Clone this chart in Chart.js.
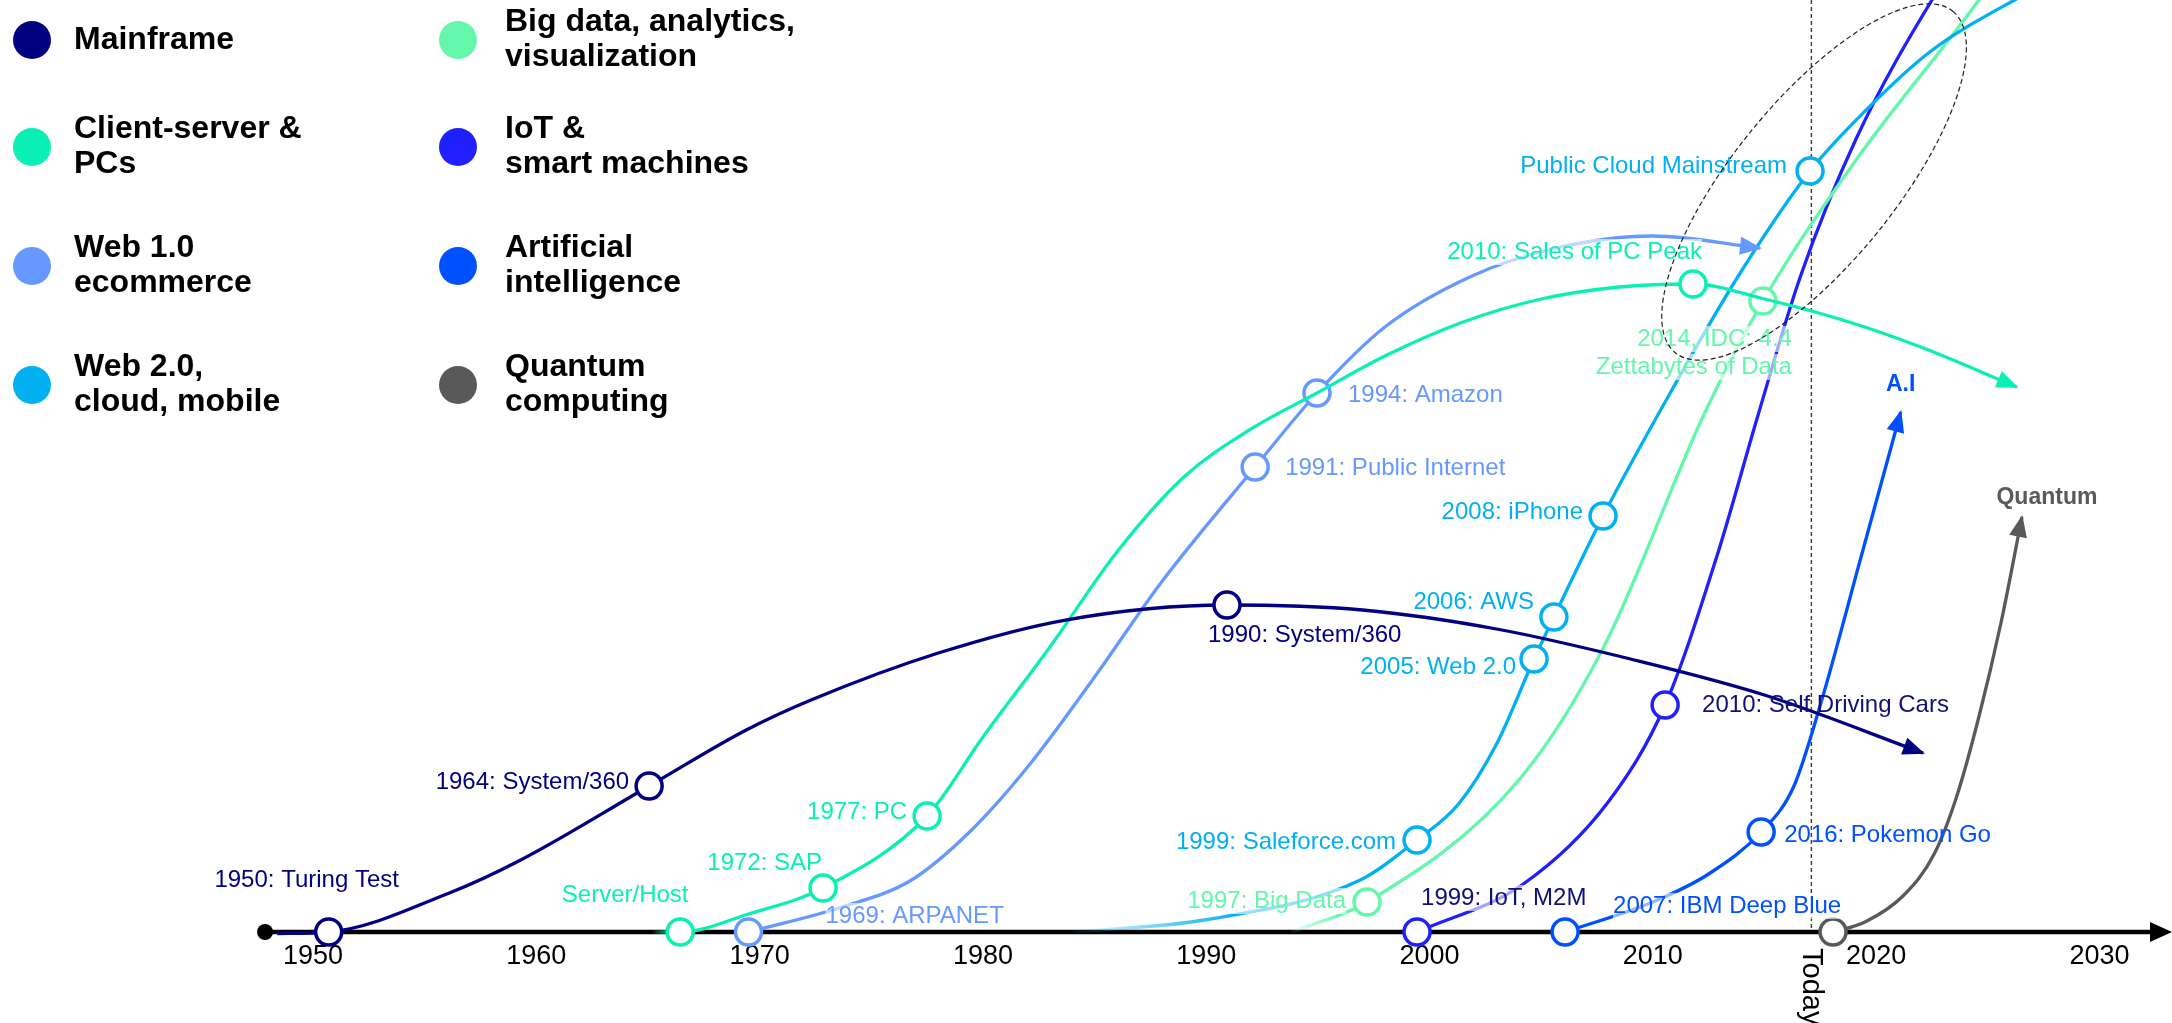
<!DOCTYPE html>
<html>
<head>
<meta charset="utf-8">
<script src="https://cdn.jsdelivr.net/npm/chart.js@4.4.1/dist/chart.umd.min.js"></script>
<style>
  html, body { margin: 0; padding: 0; background: #fff; overflow: hidden; }
  canvas { display: block; }
</style>
</head>
<body>
<canvas id="timeline" width="2172" height="1023"></canvas>
<script>
const FONT = "'Liberation Sans', Arial, Helvetica, sans-serif";

// legend names, one per wave
const seriesNames = [
  'Mainframe', 'Client-server &\nPCs', 'Web 1.0\necommerce', 'Web 2.0,\ncloud, mobile',
  'Big data, analytics,\nvisualization', 'IoT &\nsmart machines', 'Artificial\nintelligence', 'Quantum\ncomputing'
];
const seriesColors = ['#000080', '#0af0b4', '#6699ff', '#00b0f0', '#62f7aa', '#2020ff', '#0050ff', '#595959'];
const noteColors   = ['#000080', '#0af0b4', '#6699ff', '#00b0f0', '#62f7aa', '#10107a', '#0050ff', '#595959'];
const withArrow    = [true, true, true, false, false, false, true, true];
const fadeInUntil  = [null, 1966.2, null, 1991.5, 1996.0, null, null, null];

// x axis
const tickYears = [1950, 1960, 1970, 1980, 1990, 2000, 2010, 2020, 2030];
const axisStartYear = 1947.85;
const todayYear = 2017.1;

// curves: year, level above the axis, note at the point (null = plain point, '' = marker without text)
const mainframeYears  = [1948.4, 1950.7, 1956.1, 1959.3, 1965.05, 1969.4, 1972.3, 1978.0, 1983.7, 1990.93, 1997.0, 2003.0, 2009.0, 2015.0, 2022.1];
const mainframeLevels = [-1.5, 0, 39, 72, 146, 202, 232, 279, 312, 327, 322, 303, 273, 237, 179];
const mainframeNotes  = [null, '1950: Turing Test', null, null, '1964: System/360', null, null, null, null, '1990: System/360', null, null, null, null, null];

const clientYears  = [1965.2, 1966.44, 1969.5, 1972.84, 1977.5, 1980.0, 1983.0, 1986.0, 1989.0, 1992.0, 1994.96, 1998.0, 2001.5, 2005.0, 2008.5, 2011.8, 2015.0, 2018.5, 2022.0, 2026.3];
const clientLevels = [0, 0, 18, 44, 116, 195, 285, 380, 455, 503, 539, 576, 610, 633, 645, 648, 633, 612, 585, 545];
const clientNotes  = [null, 'Server/Host', null, '1972: SAP', '1977: PC', null, null, null, null, null, null, null, null, null, null, '2010: Sales of PC Peak', null, null, null, null];

const web1Years  = [1969.5, 1973.7, 1976.8, 1979.4, 1982.0, 1985.0, 1988.0, 1992.19, 1994.96, 1998.0, 2001.8, 2005.5, 2010.0, 2014.8];
const web1Levels = [0, 25, 52, 100, 165, 255, 350, 465, 539, 605, 655, 683, 696, 684];
const web1Notes  = ['1969: ARPANET', null, null, null, null, null, null, '1991: Public Internet', '1994: Amazon', null, null, null, null, null];

const web2Years  = [1984.0, 1989.9, 1996.9, 1999.44, 2001.3, 2003.0, 2004.68, 2005.57, 2007.77, 2010.6, 2013.8, 2017.04, 2019.6, 2022.4, 2026.2, 2027.0];
const web2Levels = [0, 12, 52, 92, 128, 188, 273, 315, 416, 532, 655, 761, 823, 880, 932, 941];
const web2Notes  = [null, null, null, '1999: Saleforce.com', null, null, '2005: Web 2.0', '2006: AWS', '2008: iPhone', null, null, 'Public Cloud Mainstream', null, null, null, null];

const bigDataYears  = [1993.8, 1997.2, 2004.0, 2007.8, 2012.3, 2014.93, 2019.1, 2024.6, 2025.4];
const bigDataLevels = [0, 30, 152, 285, 518, 631, 772, 932, 958];
const bigDataNotes  = [null, '1997: Big Data', null, null, null, '2014, IDC: 4.4\nZettabytes of Data', null, null, null];

const iotYears  = [1999.44, 2004.2, 2008.0, 2010.55, 2012.9, 2014.7, 2016.6, 2019.1, 2022.5, 2023.2];
const iotLevels = [0, 48, 130, 227, 378, 516, 655, 793, 932, 955];
const iotNotes  = ['1999: IoT, M2M', null, null, '2010: Self Driving Cars', null, null, null, null, null, null];

const aiYears  = [2006.07, 2010.0, 2012.5, 2014.85, 2016.3, 2017.5, 2019.3, 2021.1];
const aiLevels = [0, 30, 58, 100, 145, 227, 373, 520];
const aiNotes  = ['2007: IBM Deep Blue', null, null, '2016: Pokemon Go', null, null, null, 'A.I'];

const quantumYears  = [2018.07, 2019.5, 2021.2, 2022.6, 2023.6, 2024.6, 2025.6, 2026.53];
const quantumLevels = [0, 10, 36, 78, 135, 215, 310, 415];
const quantumNotes  = ['', null, null, null, null, null, null, 'Quantum'];

// ellipse round the convergence zone (centre in data units)
const zoneYear = 2017.22;
const zoneLevel = 750;

// where each note sits relative to its point
const noteStyle = {
  '1950: Turing Test':       { dx: -22, dy: -52, align: 'center' },
  '1964: System/360':        { dx: -20, dy: -4,  align: 'right' },
  '1990: System/360':        { dx: -19, dy: 30,  align: 'left' },
  '2010: Self Driving Cars': { dx: 37,  dy: 0,   align: 'left' },
  '1999: IoT, M2M':          { dx: 4,   dy: -34, align: 'left', fade: true },
  'Server/Host':             { dx: -55, dy: -37, align: 'center' },
  '1972: SAP':               { dx: -1,  dy: -25, align: 'right' },
  '1977: PC':                { dx: -20, dy: -4,  align: 'right' },
  '1969: ARPANET':           { dx: 77,  dy: -16, align: 'left', fade: true },
  '1991: Public Internet':   { dx: 30,  dy: 1,   align: 'left' },
  '1994: Amazon':            { dx: 31,  dy: 2,   align: 'left' },
  '2010: Sales of PC Peak':  { dx: 9,   dy: -32, align: 'right', fade: true },
  '1999: Saleforce.com':     { dx: -21, dy: 2,   align: 'right' },
  '2005: Web 2.0':           { dx: -18, dy: 8,   align: 'right' },
  '2006: AWS':               { dx: -20, dy: -15, align: 'right' },
  '2008: iPhone':            { dx: -20, dy: -4,  align: 'right' },
  'Public Cloud Mainstream': { dx: -23, dy: -5,  align: 'right' },
  '1997: Big Data':          { dx: -21, dy: -1,  align: 'right', fade: true },
  '2014, IDC: 4.4\nZettabytes of Data': { dx: 29, dy: 38, align: 'right', fade: true },
  '2007: IBM Deep Blue':     { dx: 48,  dy: -26, align: 'left', fade: true },
  '2016: Pokemon Go':        { dx: 23,  dy: 3,   align: 'left' },
  'A.I':                     { dx: 0,   dy: -27, align: 'center', bold: true, tip: true },
  'Quantum':                 { dx: 25,  dy: -19, align: 'center', bold: true, tip: true }
};

const waves = [
  [mainframeYears, mainframeLevels, mainframeNotes],
  [clientYears, clientLevels, clientNotes],
  [web1Years, web1Levels, web1Notes],
  [web2Years, web2Levels, web2Notes],
  [bigDataYears, bigDataLevels, bigDataNotes],
  [iotYears, iotLevels, iotNotes],
  [aiYears, aiLevels, aiNotes],
  [quantumYears, quantumLevels, quantumNotes]
];

function hasMarker(note) {
  return note !== null && !(noteStyle[note] && noteStyle[note].tip);
}

// line colour, faded in from the start of the curve where the original does so
function lineColor(i) {
  return (context) => {
    const chart = context.chart;
    const until = fadeInUntil[i];
    if (!until || !chart.chartArea) return seriesColors[i];
    const x = chart.scales.x;
    const g = chart.ctx.createLinearGradient(x.getPixelForValue(waves[i][0][0]), 0, x.getPixelForValue(until), 0);
    g.addColorStop(0, seriesColors[i] + '10');
    g.addColorStop(1, seriesColors[i]);
    return g;
  };
}

const datasets = waves.map(([years, levels, notes], i) => ({
  label: seriesNames[i].replace('\n', ' '),
  data: years.map((yr, j) => ({ x: yr, y: levels[j] })),
  borderColor: lineColor(i),
  borderWidth: 3.3,
  cubicInterpolationMode: 'monotone',
  pointRadius: notes.map(n => hasMarker(n) ? 13 : 0),
  pointBorderWidth: 3.5,
  pointBorderColor: seriesColors[i],
  pointBackgroundColor: '#ffffff',
  fill: false,
  clip: false
}));

const decor = {
  id: 'decor',
  beforeDatasetsDraw(chart) {
    const { ctx, chartArea, scales: { x, y } } = chart;
    const y0 = y.getPixelForValue(0);

    // today marker line
    const tx = x.getPixelForValue(todayYear);
    ctx.save();
    ctx.strokeStyle = '#3a3a3a';
    ctx.lineWidth = 1.4;
    ctx.setLineDash([4, 3]);
    ctx.beginPath();
    ctx.moveTo(tx, chartArea.top);
    ctx.lineTo(tx, y0);
    ctx.stroke();
    ctx.restore();

    // time axis with arrow
    const ax = x.getPixelForValue(axisStartYear);
    const right = chart.width;
    ctx.save();
    ctx.strokeStyle = '#000';
    ctx.fillStyle = '#000';
    ctx.lineWidth = 4.5;
    ctx.beginPath();
    ctx.moveTo(ax, y0);
    ctx.lineTo(right - 16, y0);
    ctx.stroke();
    ctx.beginPath();
    ctx.moveTo(right, y0);
    ctx.lineTo(right - 22, y0 - 10);
    ctx.lineTo(right - 22, y0 + 10);
    ctx.closePath();
    ctx.fill();
    ctx.beginPath();
    ctx.arc(ax, y0, 8, 0, Math.PI * 2);
    ctx.fill();
    ctx.restore();
  },
  afterDatasetsDraw(chart) {
    const { ctx, scales: { x, y } } = chart;

    // arrow heads
    chart.data.datasets.forEach((ds, i) => {
      if (!withArrow[i]) return;
      const pts = chart.getDatasetMeta(i).data;
      const p = pts[pts.length - 1];
      let dx = p.x - p.cp1x, dy = p.y - p.cp1y;
      if (!isFinite(dx) || !isFinite(dy) || (dx === 0 && dy === 0)) {
        const q = pts[pts.length - 2];
        dx = p.x - q.x; dy = p.y - q.y;
      }
      const len = Math.hypot(dx, dy);
      const ux = dx / len, uy = dy / len;
      const L = 20, W = 9;
      ctx.save();
      ctx.fillStyle = seriesColors[i];
      ctx.beginPath();
      ctx.moveTo(p.x + ux * 2, p.y + uy * 2);
      ctx.lineTo(p.x - ux * L - uy * W, p.y - uy * L + ux * W);
      ctx.lineTo(p.x - ux * L + uy * W, p.y - uy * L - ux * W);
      ctx.closePath();
      ctx.fill();
      ctx.restore();
    });

    // notes
    chart.data.datasets.forEach((ds, i) => {
      const notes = waves[i][2];
      const pts = chart.getDatasetMeta(i).data;
      notes.forEach((note, j) => {
        if (!note) return;
        const st = noteStyle[note];
        const lines = note.split('\n');
        ctx.save();
        ctx.font = st.bold ? `bold 23px ${FONT}` : `24px ${FONT}`;
        ctx.textAlign = st.align;
        ctx.textBaseline = 'middle';
        const bx = pts[j].x + st.dx;
        const by = pts[j].y + st.dy;
        lines.forEach((line, k) => {
          const ly = by + k * 28;
          if (st.fade) {
            const w = ctx.measureText(line).width;
            const left = st.align === 'right' ? bx - w : st.align === 'center' ? bx - w / 2 : bx;
            ctx.fillStyle = 'rgba(255,255,255,0.6)';
            ctx.fillRect(left, ly - 13, w, 26);
          }
          ctx.fillStyle = noteColors[i];
          ctx.fillText(line, bx, ly);
        });
        ctx.restore();
      });
    });

    // dashed ellipse round the convergence zone
    ctx.save();
    ctx.strokeStyle = '#222';
    ctx.lineWidth = 1.2;
    ctx.setLineDash([5, 3]);
    ctx.beginPath();
    ctx.ellipse(x.getPixelForValue(zoneYear), y.getPixelForValue(zoneLevel), 220, 81, -50.9 * Math.PI / 180, 0, Math.PI * 2);
    ctx.stroke();
    ctx.restore();

    // "Today" caption
    ctx.save();
    ctx.translate(x.getPixelForValue(todayYear) - 8, y.getPixelForValue(0) + 16);
    ctx.rotate(Math.PI / 2);
    ctx.font = `29px ${FONT}`;
    ctx.fillStyle = '#000';
    ctx.textAlign = 'left';
    ctx.textBaseline = 'alphabetic';
    ctx.fillText('Today', 0, 0);
    ctx.restore();
  },
  afterDraw(chart) {
    // legend, two columns of four
    const { ctx } = chart;
    const circleX = [32, 458];
    const textX = [74, 505];
    const rowY = [40, 147, 266, 385];
    ctx.save();
    seriesNames.forEach((name, i) => {
      const col = Math.floor(i / 4), row = i % 4;
      ctx.fillStyle = seriesColors[i];
      ctx.beginPath();
      ctx.arc(circleX[col], rowY[row], 19, 0, Math.PI * 2);
      ctx.fill();
      ctx.fillStyle = '#000';
      ctx.font = `bold 32px ${FONT}`;
      ctx.textAlign = 'left';
      ctx.textBaseline = 'middle';
      const lines = name.split('\n');
      lines.forEach((line, k) => {
        const ly = rowY[row] + (k - (lines.length - 1) / 2) * 35;
        ctx.fillText(line, textX[col], ly);
      });
    });
    ctx.restore();
  }
};

new Chart(document.getElementById('timeline'), {
  type: 'line',
  data: { datasets },
  options: {
    responsive: false,
    animation: false,
    events: [],
    devicePixelRatio: 1,
    layout: { padding: 0, autoPadding: false },
    plugins: { legend: { display: false }, tooltip: { enabled: false } },
    elements: { line: { capBezierPoints: false } },
    scales: {
      x: {
        type: 'linear',
        min: 1935.98,
        max: 2033.25,
        grid: { display: false, drawTicks: false },
        border: { display: false },
        afterBuildTicks: (scale) => { scale.ticks = tickYears.map(v => ({ value: v })); },
        afterFit: (scale) => { scale.height = 91; },
        ticks: {
          autoSkip: false,
          maxRotation: 0,
          padding: 8,
          color: '#000',
          font: { family: FONT, size: 27 },
          callback: (v) => String(v)
        }
      },
      y: { display: false, min: 0, max: 932 }
    }
  },
  plugins: [decor]
});
</script>
</body>
</html>
